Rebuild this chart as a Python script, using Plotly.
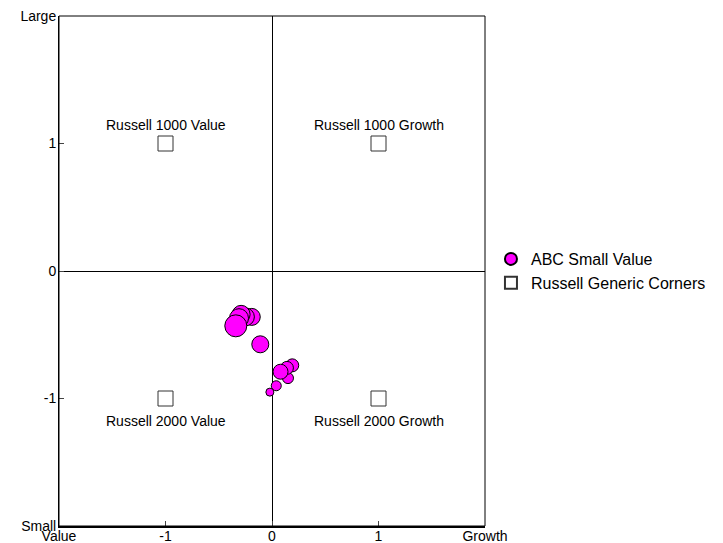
import plotly.graph_objects as go

# Fund style history (ABC Small Value)
fund_x = [-0.02, 0.04, 0.15, 0.19, 0.14, 0.08, -0.11, -0.19, -0.25, -0.29, -0.31, -0.34]
fund_y = [-0.95, -0.90, -0.84, -0.74, -0.76, -0.79, -0.575, -0.36, -0.36, -0.34, -0.37, -0.43]
fund_size = [8, 10, 11, 13, 13, 15, 17, 17, 18, 18, 19, 22]

# Russell generic corners
corner_x = [-1, 1, -1, 1]
corner_y = [1, 1, -1, -1]
corner_names = ["Russell 1000 Value", "Russell 1000 Growth", "Russell 2000 Value", "Russell 2000 Growth"]

x_tickvals = [-2, -1, 0, 1, 2]
x_ticktext = ["Value", "-1", "0", "1", "Growth"]
y_tickvals = [-2, -1, 0, 1, 2]
y_ticktext = ["Small", "-1", "0", "1", "Large"]

FONT = "Arial, Liberation Sans, sans-serif"

fig = go.Figure()

fig.add_trace(go.Scatter(
    x=fund_x, y=fund_y, mode="markers", name="ABC Small Value",
    marker=dict(size=fund_size, color="#FF00FF", opacity=1,
                line=dict(color="black", width=1)),
    hoverinfo="x+y",
))

fig.add_trace(go.Scatter(
    x=corner_x, y=corner_y, mode="markers", name="Russell Generic Corners",
    marker=dict(symbol="square", size=15, color="white", opacity=1,
                line=dict(color="#333333", width=1)),
    text=corner_names, hoverinfo="text",
))

for cx, cy, name in zip(corner_x, corner_y, corner_names):
    fig.add_annotation(
        x=cx, y=cy, text=name, showarrow=False,
        yshift=19 if cy > 0 else -22,
        font=dict(family=FONT, size=14, color="black"),
    )

# frame of the plot area
fig.add_shape(type="rect", xref="paper", yref="paper", x0=0, y0=0, x1=1, y1=1,
              line=dict(color="black", width=1), layer="above")

# the page body adds an 8px margin, so the figure is sized to fit the window
fig.update_layout(
    width=715, height=535,
    margin=dict(l=51, r=238, t=8, b=17, autoexpand=False),
    paper_bgcolor="white", plot_bgcolor="white",
    font=dict(family=FONT, size=14, color="black"),
    showlegend=True,
    legend=dict(x=1.014, y=0.5, xanchor="left", yanchor="middle",
                xref="paper", yref="paper",
                font=dict(family=FONT, size=16, color="black"),
                itemsizing="constant", tracegroupgap=0,
                bgcolor="rgba(0,0,0,0)"),
    xaxis=dict(range=[-2, 2], tickvals=x_tickvals, ticktext=x_ticktext,
               showgrid=False, zeroline=True, zerolinecolor="black", zerolinewidth=1,
               showline=True, linecolor="black", linewidth=2,
               ticks="inside", ticklen=5, tickcolor="#444444", automargin=False,
               ticklabeloverflow="allow", ticklabelstandoff=-4,
               tickfont=dict(family=FONT, size=14, color="black"), fixedrange=True),
    yaxis=dict(range=[-2, 2], tickvals=y_tickvals, ticktext=y_ticktext,
               showgrid=False, zeroline=True, zerolinecolor="black", zerolinewidth=1,
               showline=True, linecolor="black", linewidth=1,
               ticks="inside", ticklen=5, tickcolor="#444444", automargin=False,
               ticklabeloverflow="allow", ticklabelstandoff=-1,
               tickfont=dict(family=FONT, size=14, color="black"), fixedrange=True),
)

fig.write_html("out.html")
